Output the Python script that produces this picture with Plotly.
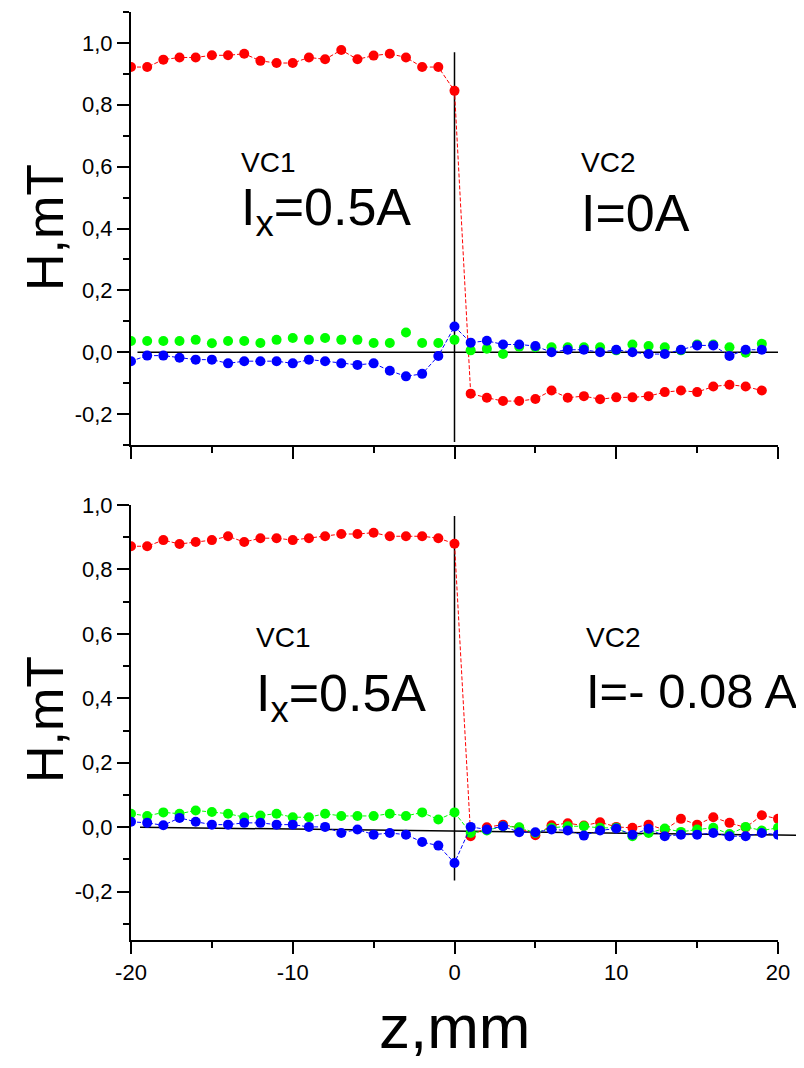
import plotly.graph_objects as go

# ---------------- data ----------------
z_left = list(range(-20, 1))          # -20 .. 0
z_right_top = list(range(1, 20))      # 1 .. 19
z_right_bot = list(range(1, 21))      # 1 .. 20

# Top panel (VC2 current I = 0 A)
top_red_left = [0.922, 0.922, 0.946, 0.953, 0.953, 0.960, 0.960, 0.965, 0.942, 0.935, 0.935,
                0.953, 0.947, 0.977, 0.947, 0.959, 0.965, 0.953, 0.922, 0.922, 0.845]
top_red_right = [-0.134, -0.147, -0.158, -0.158, -0.151, -0.124, -0.147, -0.142, -0.152, -0.146,
                 -0.146, -0.142, -0.129, -0.124, -0.129, -0.111, -0.105, -0.111, -0.124]
top_green_left = [0.036, 0.036, 0.036, 0.036, 0.040, 0.029, 0.036, 0.036, 0.030, 0.040, 0.046,
                  0.040, 0.046, 0.040, 0.040, 0.030, 0.030, 0.064, 0.030, 0.030, 0.040]
top_green_right = [0.006, 0.011, -0.006, 0.018, 0.016, 0.016, 0.016, 0.016, 0.016, 0.006,
                   0.025, 0.020, 0.016, 0.006, 0.025, 0.025, 0.016, -0.002, 0.027]
top_blue_left = [-0.029, -0.011, -0.011, -0.018, -0.024, -0.024, -0.036, -0.029, -0.029, -0.029,
                 -0.036, -0.024, -0.029, -0.036, -0.041, -0.036, -0.060, -0.078, -0.070, -0.012, 0.083]
top_blue_right = [0.031, 0.037, 0.025, 0.025, 0.020, 0.000, 0.008, 0.008, 0.000, 0.008,
                  0.000, -0.006, -0.006, 0.008, 0.022, 0.022, -0.012, 0.008, 0.008]

# Bottom panel (VC2 current I = -0.08 A)
bot_red_left = [0.872, 0.872, 0.891, 0.879, 0.885, 0.891, 0.903, 0.885, 0.897, 0.897, 0.891,
                0.897, 0.903, 0.910, 0.910, 0.914, 0.903, 0.903, 0.903, 0.897, 0.880]
bot_red_right = [-0.028, 0.000, 0.008, -0.002, -0.025, 0.006, 0.0125, 0.005, 0.0156, 0.001,
                 -0.002, 0.008, -0.008, 0.026, 0.008, 0.031, 0.0135, -0.001, 0.037, 0.026]
bot_green_left = [0.042, 0.035, 0.046, 0.042, 0.052, 0.047, 0.042, 0.031, 0.036, 0.042, 0.031,
                  0.031, 0.042, 0.035, 0.035, 0.035, 0.042, 0.035, 0.046, 0.024, 0.046]
bot_green_right = [-0.018, -0.010, 0.003, 0.000, -0.018, -0.002, 0.003, 0.003, -0.002, -0.002,
                   -0.028, -0.018, -0.004, -0.0145, -0.007, -0.002, -0.021, 0.001, -0.010, -0.002]
bot_blue_left = [0.017, 0.0135, 0.006, 0.029, 0.017, 0.008, 0.008, 0.0135, 0.0135, 0.008, 0.008,
                 0.001, 0.001, -0.018, -0.007, -0.023, -0.018, -0.023, -0.046, -0.057, -0.111]
bot_blue_right = [0.001, -0.007, 0.003, -0.0156, -0.0156, -0.007, -0.010, -0.026, -0.010, -0.004,
                  -0.023, -0.005, -0.028, -0.023, -0.023, -0.018, -0.028, -0.028, -0.018, -0.023]

y_tick_vals = [-0.2, 0.0, 0.2, 0.4, 0.6, 0.8, 1.0]
y_tick_text = ["-0,2", "0,0", "0,2", "0,4", "0,6", "0,8", "1,0"]
x_tick_vals = [-20, -10, 0, 10, 20]
x_tick_text = ["-20", "-10", "0", "10", "20"]

RED, GREEN, BLUE = "#ff0000", "#00ff00", "#0000ff"
FONT = "Liberation Sans"
DASH = "4px,2px"

# the page body adds an 8px offset; figure is sized to fit the window
W, H, OFF = 796, 1060, 8


def px(p):
    return (p - OFF) / W


def py(p):
    return 1 - (p - OFF) / H


fig = go.Figure()


def add_series(x, y, color, xa, ya, lines=True):
    fig.add_trace(go.Scatter(
        x=x, y=y, xaxis=xa, yaxis=ya,
        mode="lines+markers" if lines else "markers",
        line=dict(color=color, width=1, dash=DASH),
        marker=dict(color=color, size=10, line=dict(width=0)),
        showlegend=False, hoverinfo="x+y"))


# top panel
add_series(z_left + z_right_top, top_red_left + top_red_right, RED, "x", "y")
add_series(z_left + z_right_top, top_green_left + top_green_right, GREEN, "x", "y", lines=False)
add_series(z_left + z_right_top, top_blue_left + top_blue_right, BLUE, "x", "y")
# bottom panel
add_series(z_left + z_right_bot, bot_red_left + bot_red_right, RED, "x2", "y2")
add_series(z_left + z_right_bot, bot_green_left + bot_green_right, GREEN, "x2", "y2")
add_series(z_left + z_right_bot, bot_blue_left + bot_blue_right, BLUE, "x2", "y2")

XDOM = [px(131), px(778)]
axis_common = dict(showline=True, linecolor="black", linewidth=2, showgrid=False, zeroline=False,
                   ticks="outside", tickcolor="black", tickwidth=2, automargin=False,
                   tickfont=dict(family=FONT, size=22, color="black"), mirror=False)
minor_x = dict(dtick=5, tick0=0, ticklen=6, tickwidth=2, ticks="outside", tickcolor="black", showgrid=False)
minor_y = dict(dtick=0.1, tick0=0, ticklen=6, tickwidth=2, ticks="outside", tickcolor="black", showgrid=False)

fig.update_layout(
    width=W, height=H,
    margin=dict(l=0, r=0, t=0, b=0, autoexpand=False),
    paper_bgcolor="white", plot_bgcolor="white",
    font=dict(family=FONT, color="black"),
    xaxis=dict(domain=XDOM, range=[-20, 20], anchor="y", tickmode="array",
               tickvals=x_tick_vals, ticktext=x_tick_text, showticklabels=False, ticklen=12,
               minor=minor_x, **axis_common),
    yaxis=dict(domain=[py(445), py(12)], range=[-0.3, 1.1], anchor="x",
               tickmode="array", tickvals=y_tick_vals, ticktext=y_tick_text, ticklen=12,
               minor=minor_y, **axis_common),
    xaxis2=dict(domain=XDOM, range=[-20, 20], anchor="y2", tickmode="array",
                tickvals=x_tick_vals, ticktext=x_tick_text, ticklen=12,
                minor=minor_x, **axis_common),
    yaxis2=dict(domain=[py(940), py(505)], range=[-0.35, 1.0], anchor="x2",
                tickmode="array", tickvals=y_tick_vals, ticktext=y_tick_text, ticklen=12,
                minor=minor_y, **axis_common),
)

# reference lines
fig.add_shape(type="line", xref="x", yref="y", x0=0, x1=0, y0=0.97, y1=-0.29,
              line=dict(color="black", width=1.5), layer="below")
fig.add_shape(type="line", xref="x", yref="y", x0=-19.6, x1=20, y0=0, y1=0,
              line=dict(color="black", width=1.5), layer="below")
fig.add_shape(type="line", xref="x2", yref="y2", x0=0, x1=0, y0=0.966, y1=-0.165,
              line=dict(color="black", width=1.5), layer="below")
fig.add_shape(type="line", xref="paper", yref="y2", x0=px(140), x1=px(797), y0=0.0, y1=-0.025,
              line=dict(color="black", width=1.5), layer="below")


# annotations
def txt(x, y, text, size, xref, yref, xanchor="left", angle=0):
    fig.add_annotation(x=x, y=y, xref=xref, yref=yref, text=text, showarrow=False,
                       xanchor=xanchor, yanchor="middle", textangle=angle,
                       font=dict(family=FONT, size=size, color="black"))


txt(-13.3, 0.615, "VC1", 28, "x", "y")
txt(-13.3, 0.455, "I<sub>x</sub>=0.5A", 52, "x", "y")
txt(7.7, 0.615, "VC2", 28, "x", "y")
txt(7.7, 0.45, "I=0A", 52, "x", "y")

txt(-12.4, 0.589, "VC1", 28, "x2", "y2")
txt(-12.4, 0.405, "I<sub>x</sub>=0.5A", 52, "x2", "y2")
txt(8.0, 0.589, "VC2", 28, "x2", "y2")
txt(8.0, 0.424, "I=- 0.08 A", 49, "x2", "y2")

txt(px(45), py(228), "H,mT", 52, "paper", "paper", xanchor="center", angle=-90)
txt(px(45), py(720), "H,mT", 52, "paper", "paper", xanchor="center", angle=-90)
txt(px(455), py(1026), "z,mm", 62, "paper", "paper", xanchor="center")

fig.write_html("out.html")
